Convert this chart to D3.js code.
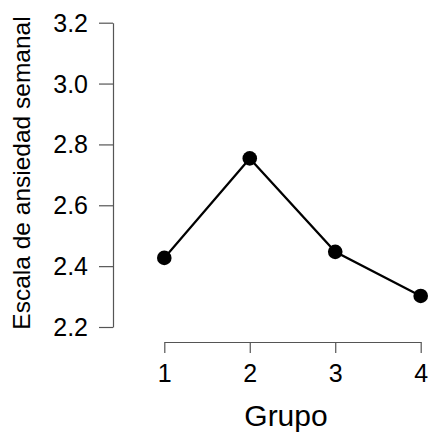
<!DOCTYPE html>
<html>
<head>
<meta charset="utf-8">
<script src="https://cdn.jsdelivr.net/npm/d3@7"></script>
<style>
  body { margin: 0; background: #fff; }
  text { font-family: "Liberation Sans", Arial, sans-serif; }
</style>
</head>
<body>
<svg id="chart" width="428" height="433"></svg>
<script>
// Data
var grupos = [1, 2, 3, 4];
var ansiedad = [2.427, 2.754, 2.447, 2.302];
var yTicks = [2.2, 2.4, 2.6, 2.8, 3.0, 3.2];

var svg = d3.select("#chart");

var x = d3.scaleLinear().domain([1, 4]).range([164.3, 420.7]);
var y = d3.scaleLinear().domain([2.2, 3.2]).range([327, 22.7]);

// Y axis
var yAxis = svg.append("g")
    .attr("transform", "translate(113,0)")
    .call(d3.axisLeft(y)
        .tickValues(yTicks)
        .tickSize(14)
        .tickSizeOuter(0)
        .tickPadding(11)
        .tickFormat(d3.format(".1f")));

// X axis
var xAxis = svg.append("g")
    .attr("transform", "translate(0,342)")
    .call(d3.axisBottom(x)
        .tickValues(grupos)
        .tickSize(11)
        .tickSizeOuter(0)
        .tickPadding(11)
        .tickFormat(d3.format("d")));

[yAxis, xAxis].forEach(function (g) {
    g.select(".domain").attr("stroke", "#555").attr("stroke-width", 1.2);
    g.selectAll(".tick line").attr("stroke", "#555").attr("stroke-width", 1.2);
    g.selectAll(".tick text")
        .style("font-family", "Liberation Sans, Arial, sans-serif")
        .style("font-size", "25px")
        .attr("fill", "#000");
});
yAxis.selectAll(".tick text").attr("dy", "0.34em");

// Axis titles
svg.append("text")
    .attr("x", 286)
    .attr("y", 426)
    .attr("text-anchor", "middle")
    .style("font-size", "30px")
    .text("Grupo");

svg.append("text")
    .attr("transform", "translate(30,173) rotate(-90)")
    .attr("text-anchor", "middle")
    .style("font-size", "24.5px")
    .text("Escala de ansiedad semanal");

// Line and points
var line = d3.line()
    .x(function (d, i) { return x(grupos[i]); })
    .y(function (d) { return y(d); });

svg.append("path")
    .datum(ansiedad)
    .attr("d", line)
    .attr("fill", "none")
    .attr("stroke", "#000")
    .attr("stroke-width", 2.2);

svg.append("g")
    .selectAll("circle")
    .data(ansiedad)
    .enter()
    .append("circle")
    .attr("cx", function (d, i) { return x(grupos[i]); })
    .attr("cy", function (d) { return y(d); })
    .attr("r", 7.3)
    .attr("fill", "#000");
</script>
</body>
</html>
